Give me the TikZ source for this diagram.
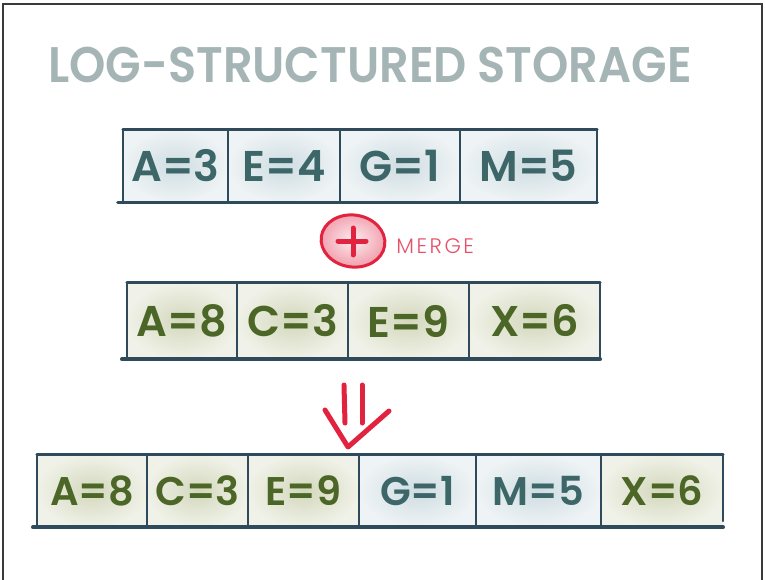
\documentclass[tikz,border=0pt]{standalone}
\usepackage{fontspec}
\setmainfont{Poppins}
\newfontfamily\handfont{Poppins SemiBold}
\newfontfamily\penfont{Poppins Light}
\usetikzlibrary{shapes.geometric,positioning}
\definecolor{inkline}{HTML}{2F4A5A}
\definecolor{bluetxt}{HTML}{3D6668}
\definecolor{greentxt}{HTML}{4B6626}
\definecolor{titlegray}{HTML}{A5B5B5}
\definecolor{framegray}{HTML}{3A3A3A}
\definecolor{mergered}{HTML}{E2233F}
\definecolor{mergepink}{HTML}{E5506A}
\definecolor{bluewash}{HTML}{CFDDE2}
\definecolor{greenwash}{HTML}{D3D8BC}
\tikzset{
  cell/.style={minimum height=73pt, inner sep=0pt, font=\fontsize{43}{43}\handfont},
  bluecell/.style={cell, text=bluetxt, inner color=bluewash, outer color=bluewash!35},
  greencell/.style={cell, text=greentxt, inner color=greenwash, outer color=greenwash!35},
  rule/.style={inkline, line width=2pt, line cap=round},
  redpen/.style={mergered, line width=5pt, line cap=round, line join=round},
}
\begin{document}
\begin{tikzpicture}[x=1pt,y=-1pt]
\useasboundingbox (0,0) rectangle (765,580);
\draw[framegray, line width=1.5pt] (3,580) -- (3,4) -- (762,4) -- (762,580);
\node[anchor=base west, inner sep=0pt, text=titlegray, font=\fontsize{50}{50}\handfont, xscale=0.925] (title) at (48,83) {LOG-STRUCTURED STORAGE};
% first run
\node[bluecell, minimum width=105pt] (r1a) at (175.5,166) {A=3};
\node[bluecell, minimum width=112pt] (r1b) at (284,166) {E=4};
\node[bluecell, minimum width=120pt] (r1c) at (400,166) {G=1};
\node[bluecell, minimum width=137pt] (r1d) at (528.5,166) {M=5};
\draw[rule, line width=3pt] (r1a.north west) -- (r1d.north east);
\draw[rule, line width=3.5pt] ([xshift=-5pt]r1a.south west) -- (r1d.south east);
\draw[rule] (r1a.north west) -- (r1a.south west);
\draw[rule] (r1a.north east) -- (r1a.south east);
\draw[rule] (r1b.north east) -- (r1b.south east);
\draw[rule] (r1c.north east) -- (r1c.south east);
\draw[rule] (r1d.north east) -- (r1d.south east);
% merge mark
\node[ellipse, draw=mergered, line width=3pt, minimum width=64pt, minimum height=52pt, inner color=mergepink!10, outer color=mergepink!55, rotate=-8] (merge) at (353,241) {};
\draw[redpen] ([xshift=-15pt]merge.center) -- ([xshift=13pt]merge.center);
\draw[redpen] ([yshift=-14pt]merge.center) -- ([yshift=13pt]merge.center);
\node[right=10pt of merge, inner sep=0pt, text=mergepink, font=\fontsize{21}{21}\penfont\addfontfeature{LetterSpace=12}] (mergelbl) {MERGE};
% second run
\node[greencell, minimum width=110pt, minimum height=76pt] (r2a) at (182,321) {A=8};
\node[greencell, minimum width=111pt, minimum height=76pt] (r2b) at (292.5,321) {C=3};
\node[greencell, minimum width=121pt, minimum height=76pt] (r2c) at (408.5,321) {E=9};
\node[greencell, minimum width=131pt, minimum height=76pt] (r2d) at (534.5,321) {X=6};
\draw[rule, line width=3pt] (r2a.north west) -- (r2d.north east);
\draw[rule, line width=3.5pt] ([xshift=-5pt]r2a.south west) -- (r2d.south east);
\draw[rule] (r2a.north west) -- (r2a.south west);
\draw[rule] (r2a.north east) -- (r2a.south east);
\draw[rule] (r2b.north east) -- (r2b.south east);
\draw[rule] (r2c.north east) -- (r2c.south east);
\draw[rule] (r2d.north east) -- (r2d.south east);
% result arrow
\coordinate (arrtip) at (348,447);
\draw[redpen] (arrtip) ++(-3,-24) -- ++(-1,-38);
\draw[redpen] (arrtip) ++(14,-24) -- ++(0,-38);
\draw[redpen] (arrtip) ++(-23,-37) -- (arrtip) -- ++(41,-36);
% merged run
\node[greencell, minimum width=110pt, minimum height=72pt, font=\fontsize{40}{40}\handfont] (r3a) at (92,491) {A=8};
\node[greencell, minimum width=101pt, minimum height=72pt, font=\fontsize{40}{40}\handfont] (r3b) at (197.5,491) {C=3};
\node[greencell, minimum width=111pt, minimum height=72pt, font=\fontsize{40}{40}\handfont] (r3c) at (303.5,491) {E=9};
\node[bluecell, minimum width=117pt, minimum height=72pt, font=\fontsize{40}{40}\handfont] (r3d) at (417.5,491) {G=1};
\node[bluecell, minimum width=125pt, minimum height=72pt, font=\fontsize{40}{40}\handfont] (r3e) at (538.5,491) {M=5};
\node[greencell, minimum width=122pt, minimum height=72pt, font=\fontsize{40}{40}\handfont] (r3f) at (662,491) {X=6};
\draw[rule, line width=3pt] (r3a.north west) -- (r3f.north east);
\draw[rule, line width=3.5pt] ([xshift=-4pt]r3a.south west) -- (r3f.south east);
\draw[rule] (r3a.north west) -- (r3a.south west);
\draw[rule] (r3a.north east) -- (r3a.south east);
\draw[rule] (r3b.north east) -- (r3b.south east);
\draw[rule] (r3c.north east) -- (r3c.south east);
\draw[rule] (r3d.north east) -- (r3d.south east);
\draw[rule] (r3e.north east) -- (r3e.south east);
\draw[rule] (r3f.north east) -- ([yshift=6pt]r3f.south east);
\end{tikzpicture}
\end{document}
